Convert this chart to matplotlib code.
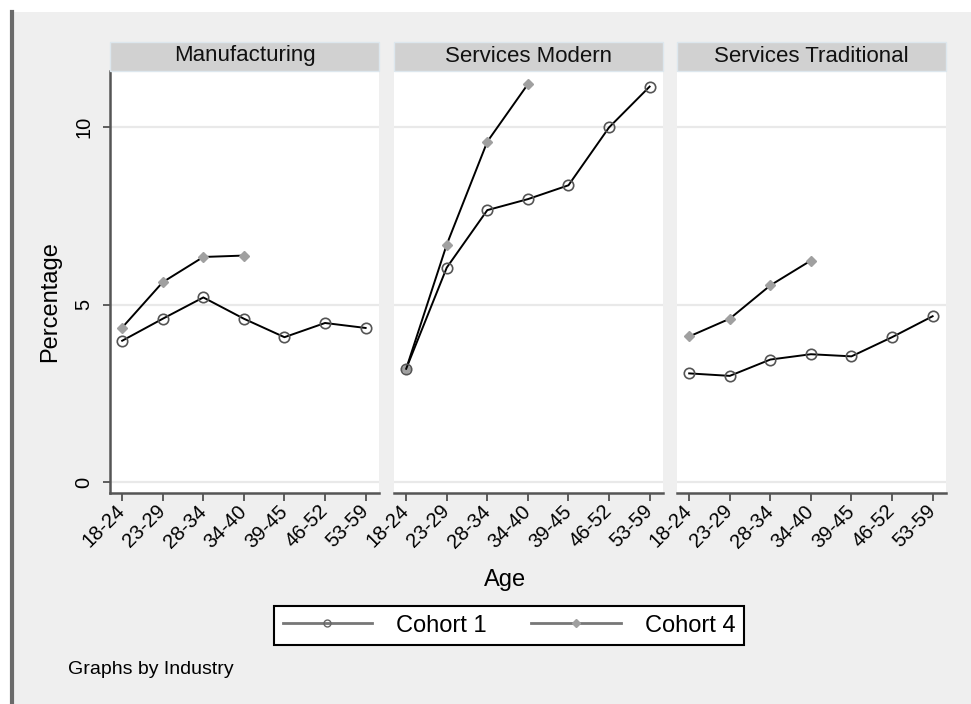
import numpy as np
import matplotlib.pyplot as plt
from matplotlib.lines import Line2D
from matplotlib.patches import Rectangle

plt.rcParams['font.family'] = ['Liberation Sans', 'DejaVu Sans']

# percentage by age group, one series per cohort and industry
ages = ['18-24', '23-29', '28-34', '34-40', '39-45', '46-52', '53-59']
industries = ['Manufacturing', 'Services Modern', 'Services Traditional']
cohort1_manufacturing = [3.98, 4.60, 5.20, 4.60, 4.08, 4.48, 4.34]
cohort4_manufacturing = [4.35, 5.63, 6.34, 6.38]
cohort1_modern = [3.19, 6.04, 7.66, 7.97, 8.36, 9.99, 11.14]
cohort4_modern = [3.19, 6.69, 9.59, 11.21]
cohort1_traditional = [3.06, 2.99, 3.45, 3.60, 3.54, 4.08, 4.67]
cohort4_traditional = [4.10, 4.60, 5.54, 6.24]
yticks = [0, 5, 10]

cohort1 = [cohort1_manufacturing, cohort1_modern, cohort1_traditional]
cohort4 = [cohort4_manufacturing, cohort4_modern, cohort4_traditional]

W, H = 971, 704
bg = '#efefef'
fig = plt.figure(figsize=(W / 100, H / 100), dpi=100, facecolor=bg)

# white window margin with a dark border line on the left
fig.patches.append(Rectangle((0, 1 - 12 / H), 1, 12 / H, transform=fig.transFigure,
                             facecolor='white', edgecolor='none', zorder=0))
fig.patches.append(Rectangle((0, 0), 10 / W, 1, transform=fig.transFigure,
                             facecolor='white', edgecolor='none', zorder=0))
fig.add_artist(Line2D([12 / W, 12 / W], [0, 1 - 12 / H], transform=fig.transFigure,
                      color='#6a6a6a', lw=3))

lefts = [110, 394, 677]
pw = 269
top, bottom = 71, 493
x = np.arange(len(ages))

for i, name in enumerate(industries):
    ax = fig.add_axes([lefts[i] / W, 1 - bottom / H, pw / W, (bottom - top) / H])
    ax.set_facecolor('white')
    for y in yticks:
        ax.axhline(y, color='#e9e9e9', lw=1.6, zorder=1)
    ax.plot(x[:len(cohort4[i])], cohort4[i], color='black', lw=1.4, marker='D', ms=5,
            mfc='#a0a0a0', mec='#a0a0a0', zorder=3)
    ax.plot(x, cohort1[i], color='black', lw=1.4, marker='o', ms=7.5,
            mfc='none', mec='#555555', mew=1.2, zorder=4)
    ax.set_xlim(-0.3, 6.33)
    ax.set_ylim(-0.31, 11.58)
    ax.set_xticks(x)
    ax.set_xticklabels(ages, rotation=45, ha='right', va='center',
                       rotation_mode='anchor', fontsize=14.5)
    ax.tick_params(axis='x', length=6, width=1.2, color='#444444', pad=5)
    for s in ['top', 'right']:
        ax.spines[s].set_visible(False)
    ax.spines['bottom'].set_color('#555555')
    ax.spines['bottom'].set_linewidth(1.8)
    if i == 0:
        ax.set_yticks(yticks)
        ax.set_yticklabels([str(v) for v in yticks], rotation=90, va='center', fontsize=14.5)
        ax.tick_params(axis='y', length=5, width=1.2, color='#444444', pad=7)
        ax.spines['left'].set_color('#555555')
        ax.spines['left'].set_linewidth(1.8)
    else:
        ax.set_yticks([])
        ax.spines['left'].set_visible(False)

    # panel header
    fig.patches.append(Rectangle((lefts[i] / W, 1 - 71 / H), pw / W, 29 / H,
                                 transform=fig.transFigure, facecolor='#d1d1d1',
                                 edgecolor='#dde7ee', lw=1, zorder=1))
    fig.text((lefts[i] + pw / 2) / W, 1 - 56 / H, name, ha='center', va='center',
             fontsize=16, color='#111111')

fig.text(50 / W, 1 - 302 / H, 'Percentage', rotation=90, ha='center', va='center', fontsize=17)
fig.text(505 / W, 1 - 580 / H, 'Age', ha='center', va='center', fontsize=17)
fig.text(68 / W, 1 - 669 / H, 'Graphs by Industry', ha='left', va='center', fontsize=14)

handles = [Line2D([], [], color='#777777', lw=2, marker='o', ms=5, mfc='none', mec='#666666'),
           Line2D([], [], color='#777777', lw=2, marker='D', ms=4, mfc='#a0a0a0', mec='#a0a0a0')]
leg = fig.legend(handles, ['Cohort 1', 'Cohort 4'], loc='center',
                 bbox_to_anchor=(509 / W, 1 - 625.5 / H), ncol=2, fontsize=17,
                 frameon=True, fancybox=False, edgecolor='black', facecolor='white',
                 framealpha=1, handlelength=3.8, handletextpad=1.0, columnspacing=1.9,
                 borderpad=0.35, borderaxespad=0)
leg.get_frame().set_linewidth(1.5)

plt.savefig('out.png', dpi=100, facecolor=bg)
